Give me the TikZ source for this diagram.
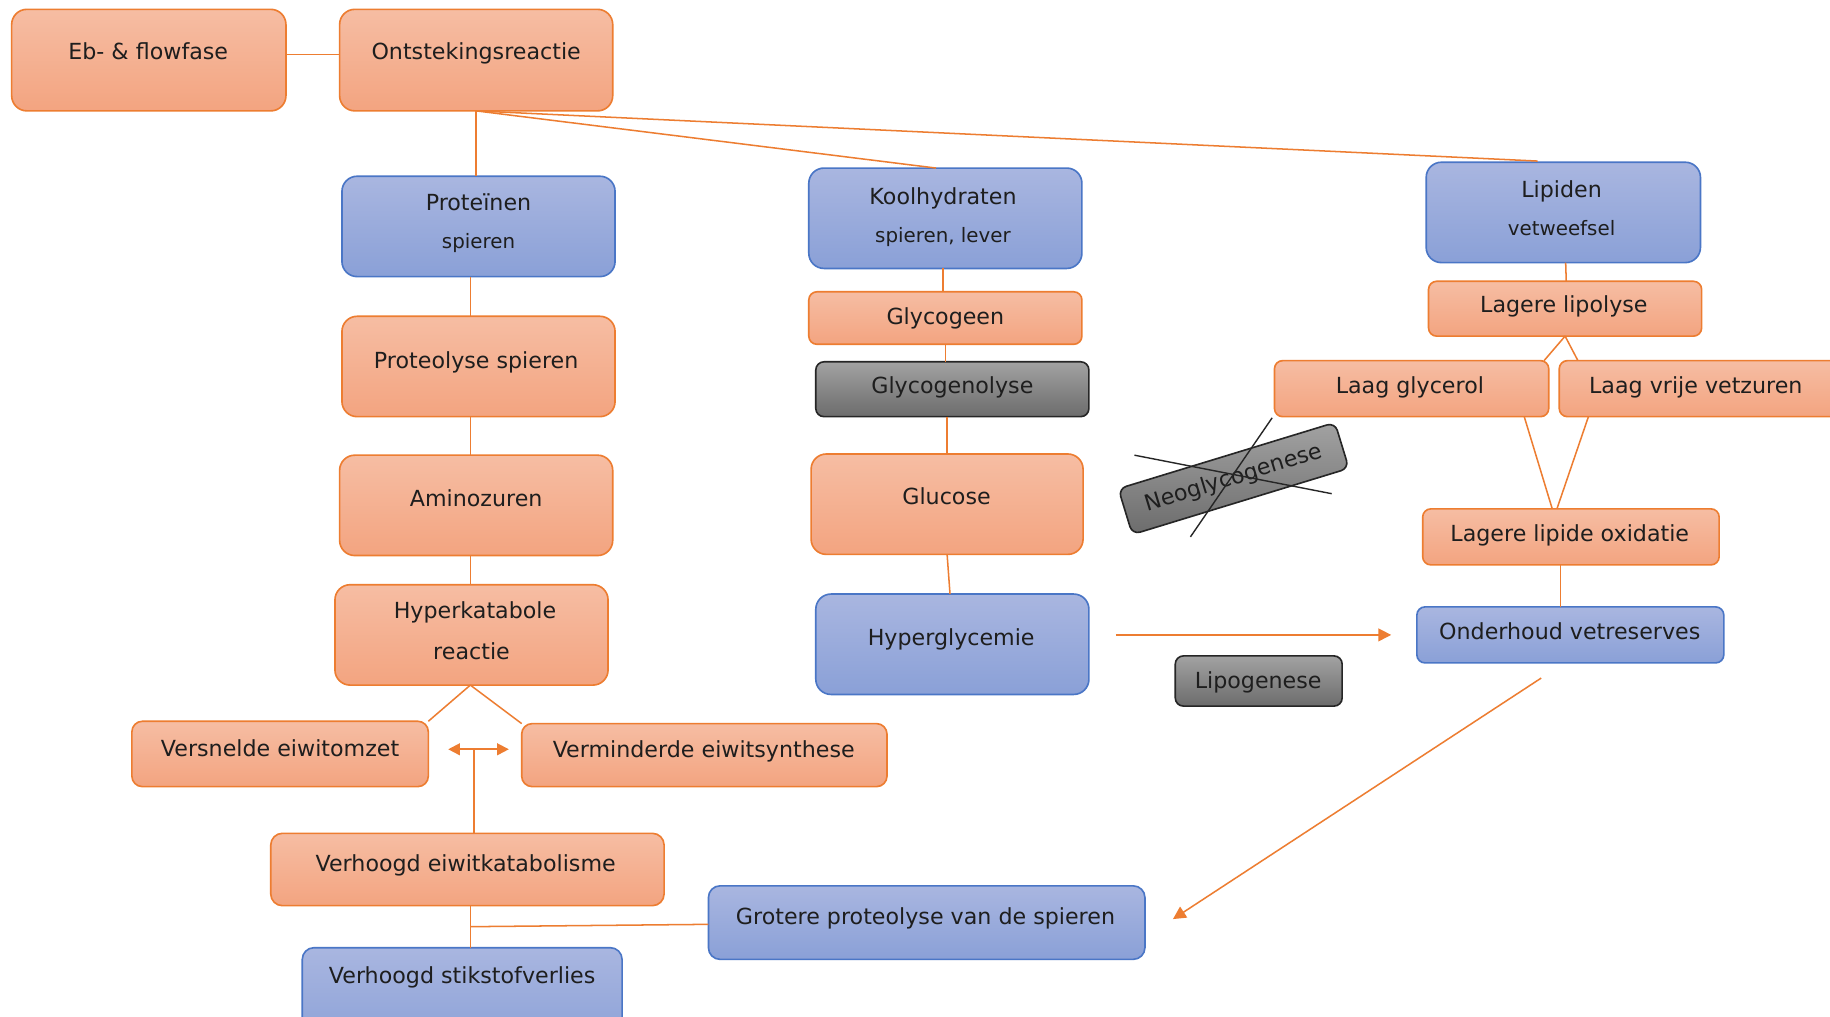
\documentclass[tikz,border=0pt]{standalone}
\usepackage{fontspec}
\setmainfont{DejaVu Sans}
\usetikzlibrary{arrows.meta,calc}

\definecolor{orline}{HTML}{ED7D31}
\definecolor{ortop}{HTML}{F6BDA3}
\definecolor{orbot}{HTML}{F3A480}
\definecolor{blline}{HTML}{4A76C6}
\definecolor{bltop}{HTML}{A9B6E0}
\definecolor{blbot}{HTML}{8AA0D7}
\definecolor{grline}{HTML}{262626}
\definecolor{grtop}{HTML}{A2A2A2}
\definecolor{grbot}{HTML}{6C6C6C}
\definecolor{ink}{HTML}{1E1E1E}

% box from (x1,y1) to (x2,y2): name, style, x1, y1, x2, y2
\newcommand\mybox[6]{\node[#2, minimum width={#5-#3}, minimum height={#6-#4}] (#1) at ({(#3+#5)/2},{(#4+#6)/2}) {};}

\tikzset{
  box/.style={rectangle, inner sep=0pt, outer sep=0pt, line width=1.4pt, rounded corners=#1},
  box/.default=10pt,
  orbox/.style={box=#1, draw=orline, top color=ortop, bottom color=orbot},
  orbox/.default=10pt,
  blbox/.style={box=#1, draw=blline, top color=bltop, bottom color=blbot},
  blbox/.default=10pt,
  grbox/.style={box=#1, draw=grline, top color=grtop, bottom color=grbot},
  grbox/.default=7pt,
  lab/.style={anchor=base, text=ink, inner sep=0pt, font=\fontsize{19}{22}\selectfont},
  sub/.style={lab, font=\fontsize{17}{20}\selectfont},
  link/.style={draw=orline, line width=1.3pt},
  arr/.style={link, -{Triangle[length=11pt,width=11pt]}},
  dbl/.style={link, line width=1.6pt, {Triangle[length=10pt,width=10pt]}-{Triangle[length=10pt,width=10pt]}},
  cross/.style={draw=black!85, line width=1.2pt},
}

\begin{document}
\begin{tikzpicture}[x=1pt, y=-1pt]
\useasboundingbox (0,0) rectangle (1568,871);
\fill[white] (0,0) rectangle (1568,871);
\clip (0,0) rectangle (1568,871);

% ---- boxes ----
\mybox{eb}{orbox=13pt}{10}{8}{245}{95}
\mybox{ont}{orbox=13pt}{291}{8}{525}{95}
\mybox{pro}{blbox=13pt}{293}{151}{527}{237}
\mybox{kool}{blbox=13pt}{693}{144}{927}{230}
\mybox{lip}{blbox=13pt}{1222}{139}{1457}{225}
\mybox{prol}{orbox=13pt}{293}{271}{527}{357}
\mybox{amino}{orbox=13pt}{291}{390}{525}{476}
\mybox{hyper}{orbox=13pt}{287}{501}{521}{587}
\mybox{vers}{orbox=9pt}{113}{618}{367}{674}
\mybox{verm}{orbox=9pt}{447}{620}{760}{674}
\mybox{vek}{orbox=10pt}{232}{714}{569}{776}
\mybox{stik}{blbox=10pt}{259}{812}{533}{900}
\mybox{grot}{blbox=10pt}{607}{759}{981}{822}
\mybox{glyc}{orbox=7pt}{693}{250}{927}{295}
\mybox{glyl}{grbox=7pt}{699}{310}{933}{357}
\mybox{gluc}{orbox=13pt}{695}{389}{928}{475}
\mybox{hgly}{blbox=13pt}{699}{509}{933}{595}
\mybox{lipo}{grbox=7pt}{1007}{562}{1150}{605}
\mybox{llip}{orbox=7pt}{1224}{241}{1458}{288}
\mybox{lgly}{orbox=7pt}{1092}{309}{1327}{357}
\mybox{lvrij}{orbox=7pt}{1336}{309}{1590}{357}
\mybox{lox}{orbox=7pt}{1219}{436}{1473}{484}
\mybox{ond}{blbox=7pt}{1214}{520}{1477}{568}

% tilted, struck-through process box
\node[grbox=7pt, minimum width=194, minimum height=41, rotate=17, text=ink,
      font=\fontsize{19}{22}\selectfont] (neo) at (1057,410) {Neoglycogenese};
\draw[cross] (972,390) -- (1141,423);
\draw[cross] (1090,358) -- (1020,460);

% ---- labels ----
\node[lab] (eb-t) at (127,51) {Eb- \& flowfase};
\node[lab] (ont-t) at (408,51) {Ontstekingsreactie};
\node[lab] (pro-t) at (410,180) {Proteïnen};
\node[sub] (pro-s) at (410,213) {spieren};
\node[lab] (kool-t) at (808,175) {Koolhydraten};
\node[sub] (kool-s) at (808,208) {spieren, lever};
\node[lab] (lip-t) at (1338,169) {Lipiden};
\node[sub] (lip-s) at (1338,202) {vetweefsel};
\node[lab] (prol-t) at (408,316) {Proteolyse spieren};
\node[lab] (amino-t) at (408,434) {Aminozuren};
\node[lab] (hyper-t) at (407,530) {Hyperkatabole};
\node[lab] (hyper-s) at (404,565) {reactie};
\node[lab] (vers-t) at (240,648) {Versnelde eiwitomzet};
\node[lab] (verm-t) at (603,649) {Verminderde eiwitsynthese};
\node[lab] (vek-t) at (399,747) {Verhoogd eiwitkatabolisme};
\node[lab] (stik-t) at (396,843) {Verhoogd stikstofverlies};
\node[lab] (grot-t) at (793,792) {Grotere proteolyse van de spieren};
\node[lab] (glyc-t) at (810,278) {Glycogeen};
\node[lab] (glyl-t) at (816,337) {Glycogenolyse};
\node[lab] (gluc-t) at (811,432) {Glucose};
\node[lab] (hgly-t) at (815,553) {Hyperglycemie};
\node[lab] (lipo-t) at (1078,590) {Lipogenese};
\node[lab] (llip-t) at (1340,268) {Lagere lipolyse};
\node[lab] (lgly-t) at (1208,337) {Laag glycerol};
\node[lab] (lvrij-t) at (1453,337) {Laag vrije vetzuren};
\node[lab] (lox-t) at (1345,464) {Lagere lipide oxidatie};
\node[lab] (ond-t) at (1345,548) {Onderhoud vetreserves};

% ---- connectors ----
\draw[link] ($(eb.east)+(0,-5)$) -- ($(ont.west)+(0,-5)$);
\draw[link] (ont.south) -- (ont.south |- pro.north);
\draw[link] (ont.south) -- ($(kool.north)+(-8,0)$);
\draw[link] (ont.south) -- ($(lip.north)+(-22,-1)$);

% protein column
\draw[link] ($(pro.south)+(-7,0)$) -- ($(prol.north)+(-7,0)$);
\draw[link] ($(prol.south)+(-7,0)$) -- ($(amino.north)+(-5,0)$);
\draw[link] ($(amino.south)+(-5,0)$) -- ($(hyper.north)+(-1,0)$);
\draw[link] ($(hyper.south)+(-1,0)$) -- (vers.north east);
\draw[link] ($(hyper.south)+(-1,0)$) -- (verm.north west);
\coordinate (dl) at (384,642);
\coordinate (dr) at (436,642);
\coordinate (dm) at (406,642);
\draw[dbl] (dl) -- (dr);
\draw[link] (dm) -- (dm |- vek.north);
\coordinate (vj) at ($(vek.south)+(2.5,0)$);
\draw[link] (vj) -- (vj |- stik.north);
\draw[link] ($(vj)+(0,18)$) -- ($(grot.west)+(0,1.5)$);

% carbohydrate column
\draw[link] ($(kool.south)+(-2,0)$) -- ($(glyc.north)+(-2,0)$);
\draw[link] (glyc.south) -- (glyc.south |- glyl.north);
\draw[link] (gluc.north |- glyl.south) -- (gluc.north);
\draw[link] (gluc.south) -- ($(hgly.north)+(-2,0)$);
\draw[arr, shorten <=23pt, shorten >=22pt] (hgly.east |- ond.west) -- (ond.west);

% lipid column
\draw[link] ($(lip.south)+(2,0)$) -- ($(llip.north)+(1,0)$);
\draw[link] (llip.south) -- ($(lgly.north east)+(-4,0)$);
\draw[link] (llip.south) -- ($(lvrij.north west)+(16,0)$);
\draw[link] ($(lgly.south east)+(-21,0)$) -- ($(lox.north)+(-16,0)$);
\draw[link] ($(lvrij.south west)+(25,0)$) -- ($(lox.north)+(-12,0)$);
\draw[link] ($(lox.south)+(-9,0)$) -- ($(ond.north)+(-8.5,0)$);
\draw[arr] ($(ond.south)+(-25,13)$) -- ($(grot.east)+(24,-3)$);
\end{tikzpicture}
\end{document}
